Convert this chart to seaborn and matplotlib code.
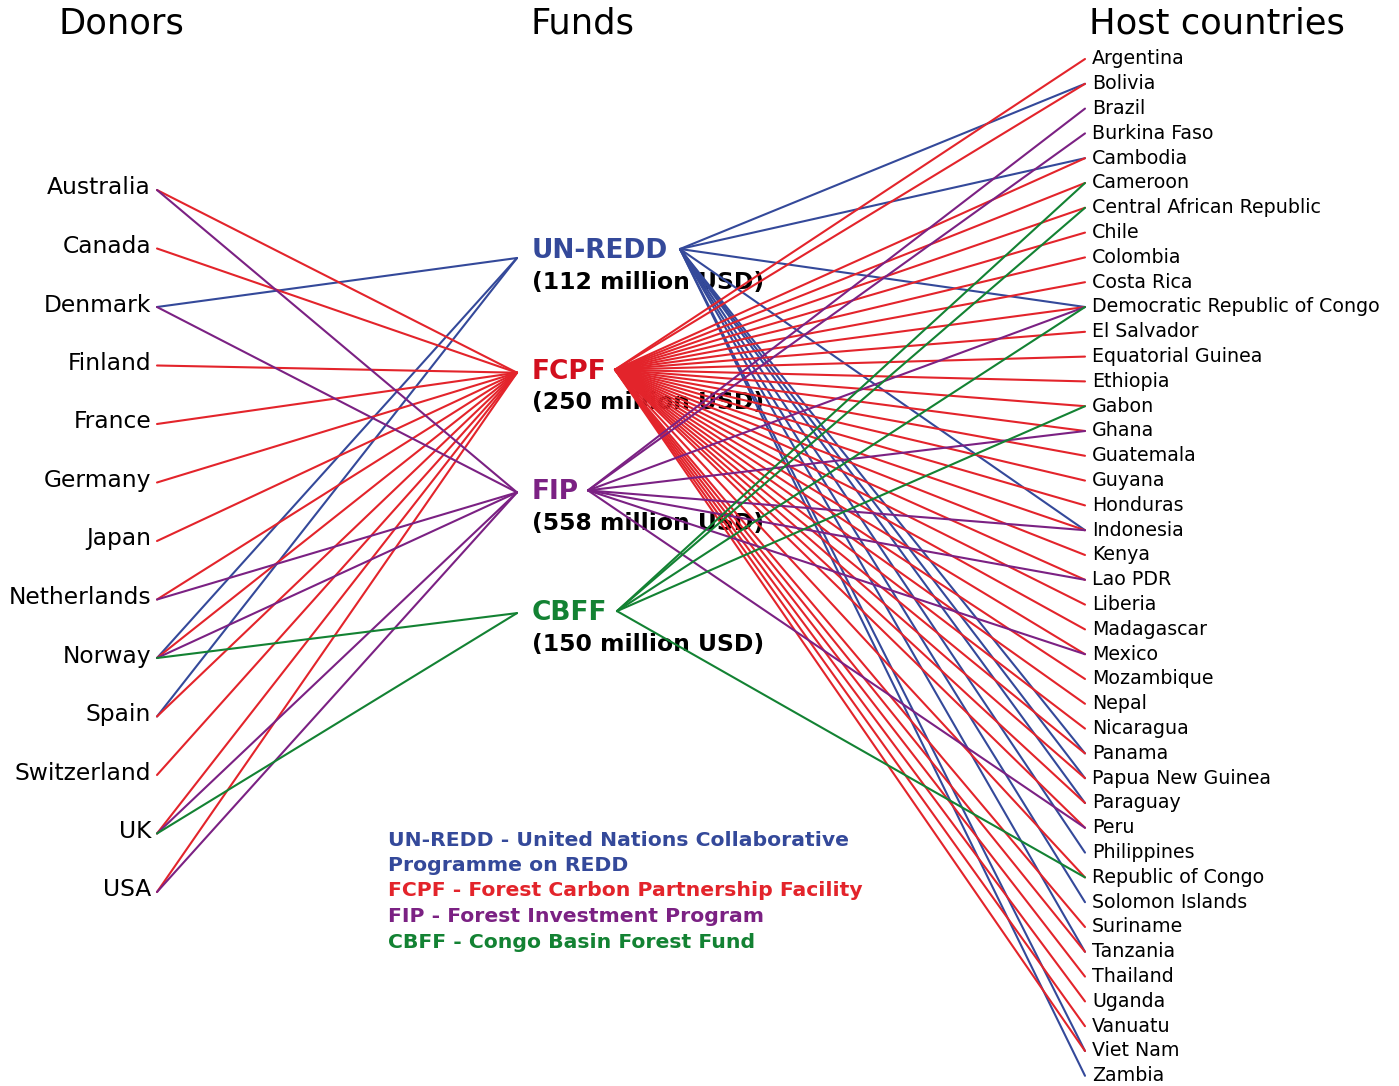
import seaborn as sns
import matplotlib.pyplot as plt
import pandas as pd

# ----------------------------
# data
# ----------------------------
donors = ["Australia", "Canada", "Denmark", "Finland", "France", "Germany", "Japan",
          "Netherlands", "Norway", "Spain", "Switzerland", "UK", "USA"]

funds = ["UN-REDD", "FCPF", "FIP", "CBFF"]
fund_amounts = [112, 250, 558, 150]  # million USD
fund_long_names = ["United Nations Collaborative\nProgramme on REDD",
                   "Forest Carbon Partnership Facility",
                   "Forest Investment Program",
                   "Congo Basin Forest Fund"]

hosts = ["Argentina", "Bolivia", "Brazil", "Burkina Faso", "Cambodia", "Cameroon",
         "Central African Republic", "Chile", "Colombia", "Costa Rica",
         "Democratic Republic of Congo", "El Salvador", "Equatorial Guinea", "Ethiopia",
         "Gabon", "Ghana", "Guatemala", "Guyana", "Honduras", "Indonesia", "Kenya",
         "Lao PDR", "Liberia", "Madagascar", "Mexico", "Mozambique", "Nepal", "Nicaragua",
         "Panama", "Papua New Guinea", "Paraguay", "Peru", "Philippines",
         "Republic of Congo", "Solomon Islands", "Suriname", "Tanzania", "Thailand",
         "Uganda", "Vanuatu", "Viet Nam", "Zambia"]

# donors paying into each fund
unredd_donors = ["Denmark", "Norway", "Spain"]
fcpf_donors = ["Australia", "Canada", "Finland", "France", "Germany", "Japan", "Netherlands",
               "Norway", "Spain", "Switzerland", "UK", "USA"]
fip_donors = ["Australia", "Denmark", "Netherlands", "Norway", "UK", "USA"]
cbff_donors = ["Norway", "UK"]

# host countries receiving from each fund
unredd_hosts = ["Bolivia", "Cambodia", "Democratic Republic of Congo", "Indonesia", "Panama",
                "Papua New Guinea", "Paraguay", "Philippines", "Solomon Islands", "Tanzania",
                "Viet Nam", "Zambia"]
fcpf_hosts = ["Argentina", "Bolivia", "Cambodia", "Cameroon", "Central African Republic", "Chile",
              "Colombia", "Costa Rica", "Democratic Republic of Congo", "El Salvador",
              "Equatorial Guinea", "Ethiopia", "Gabon", "Ghana", "Guatemala", "Guyana",
              "Honduras", "Indonesia", "Kenya", "Lao PDR", "Liberia", "Madagascar", "Mexico",
              "Mozambique", "Nepal", "Nicaragua", "Panama", "Papua New Guinea", "Paraguay",
              "Peru", "Republic of Congo", "Suriname", "Tanzania", "Thailand", "Uganda",
              "Vanuatu", "Viet Nam"]
fip_hosts = ["Brazil", "Burkina Faso", "Democratic Republic of Congo", "Ghana", "Indonesia",
             "Lao PDR", "Mexico", "Peru"]
cbff_hosts = ["Cameroon", "Central African Republic", "Democratic Republic of Congo", "Gabon",
              "Republic of Congo"]

fund_donors = [unredd_donors, fcpf_donors, fip_donors, cbff_donors]
fund_hosts = [unredd_hosts, fcpf_hosts, fip_hosts, cbff_hosts]

colors = ["#34499a", "#e3242b", "#7b2183", "#138233"]
label_colors = ["#34499a", "#d20f1e", "#7b2183", "#138233"]

# ----------------------------
# layout (pixel space)
# ----------------------------
W, H = 1399, 1086
donor_x, donor_y0, donor_dy = 157, 190, 58.5
host_x, host_y0, host_dy = 1085, 59, 24.8
fund_left_x = 517
fund_left_dy = [7, 1, 0, 0]
fund_right_x = [680, 615, 588, 617]
fund_label_x, fund_y0, fund_dy = 532, 251, 120.7

donor_y = {d: donor_y0 + i * donor_dy for i, d in enumerate(donors)}
host_y = {h: host_y0 + i * host_dy for i, h in enumerate(hosts)}
fund_y = [fund_y0 + i * fund_dy for i in range(len(funds))]

# build segments
rows = []
seg = 0
for fi, f in enumerate(funds):
    for d in fund_donors[fi]:
        rows.append((seg, donor_x, donor_y[d], f))
        rows.append((seg, fund_left_x, fund_y[fi] + fund_left_dy[fi], f))
        seg += 1
    for h in fund_hosts[fi]:
        rows.append((seg, fund_right_x[fi], fund_y[fi] - 2, f))
        rows.append((seg, host_x, host_y[h], f))
        seg += 1
links = pd.DataFrame(rows, columns=["seg", "x", "y", "fund"])

# ----------------------------
# plot
# ----------------------------
sns.set_style("white")
plt.rcParams["font.family"] = ["DejaVu Sans"]
plt.rcParams["text.color"] = "black"

fig = plt.figure(figsize=(W / 100, H / 100), dpi=100)
ax = fig.add_axes([0, 0, 1, 1])

sns.lineplot(data=links, x="x", y="y", units="seg", hue="fund", estimator=None, sort=False,
             palette=dict(zip(funds, colors)), linewidth=1.5, legend=False, ax=ax, zorder=3)

# headers
ax.text(121, 24, "Donors", fontsize=25.4, ha="center", va="center")
ax.text(582, 24, "Funds", fontsize=25.4, ha="center", va="center")
ax.text(1217, 24, "Host countries", fontsize=25.4, ha="center", va="center")

for d in donors:
    ax.text(151, donor_y[d] - 2, d, fontsize=16.8, ha="right", va="center")

for h in hosts:
    ax.text(1092, host_y[h], h, fontsize=13.7, ha="left", va="center")

for fi, f in enumerate(funds):
    ax.text(fund_label_x, fund_y[fi], f, fontsize=19, fontweight="bold",
            color=label_colors[fi], ha="left", va="center", zorder=2)
    ax.text(fund_label_x, fund_y[fi] + 31, f"({fund_amounts[fi]} million USD)", fontsize=16.9,
            fontweight="bold", ha="left", va="center", zorder=2)

# legend text
legend_y = 840
for fi, f in enumerate(funds):
    for line in f"{f} - {fund_long_names[fi]}".split("\n"):
        ax.text(388, legend_y, line, fontsize=14.7, fontweight="bold", color=colors[fi],
                ha="left", va="center")
        legend_y += 25.5

ax.set_xlim(0, W)
ax.set_ylim(H, 0)
ax.axis("off")

plt.savefig("out.png", dpi=100)
